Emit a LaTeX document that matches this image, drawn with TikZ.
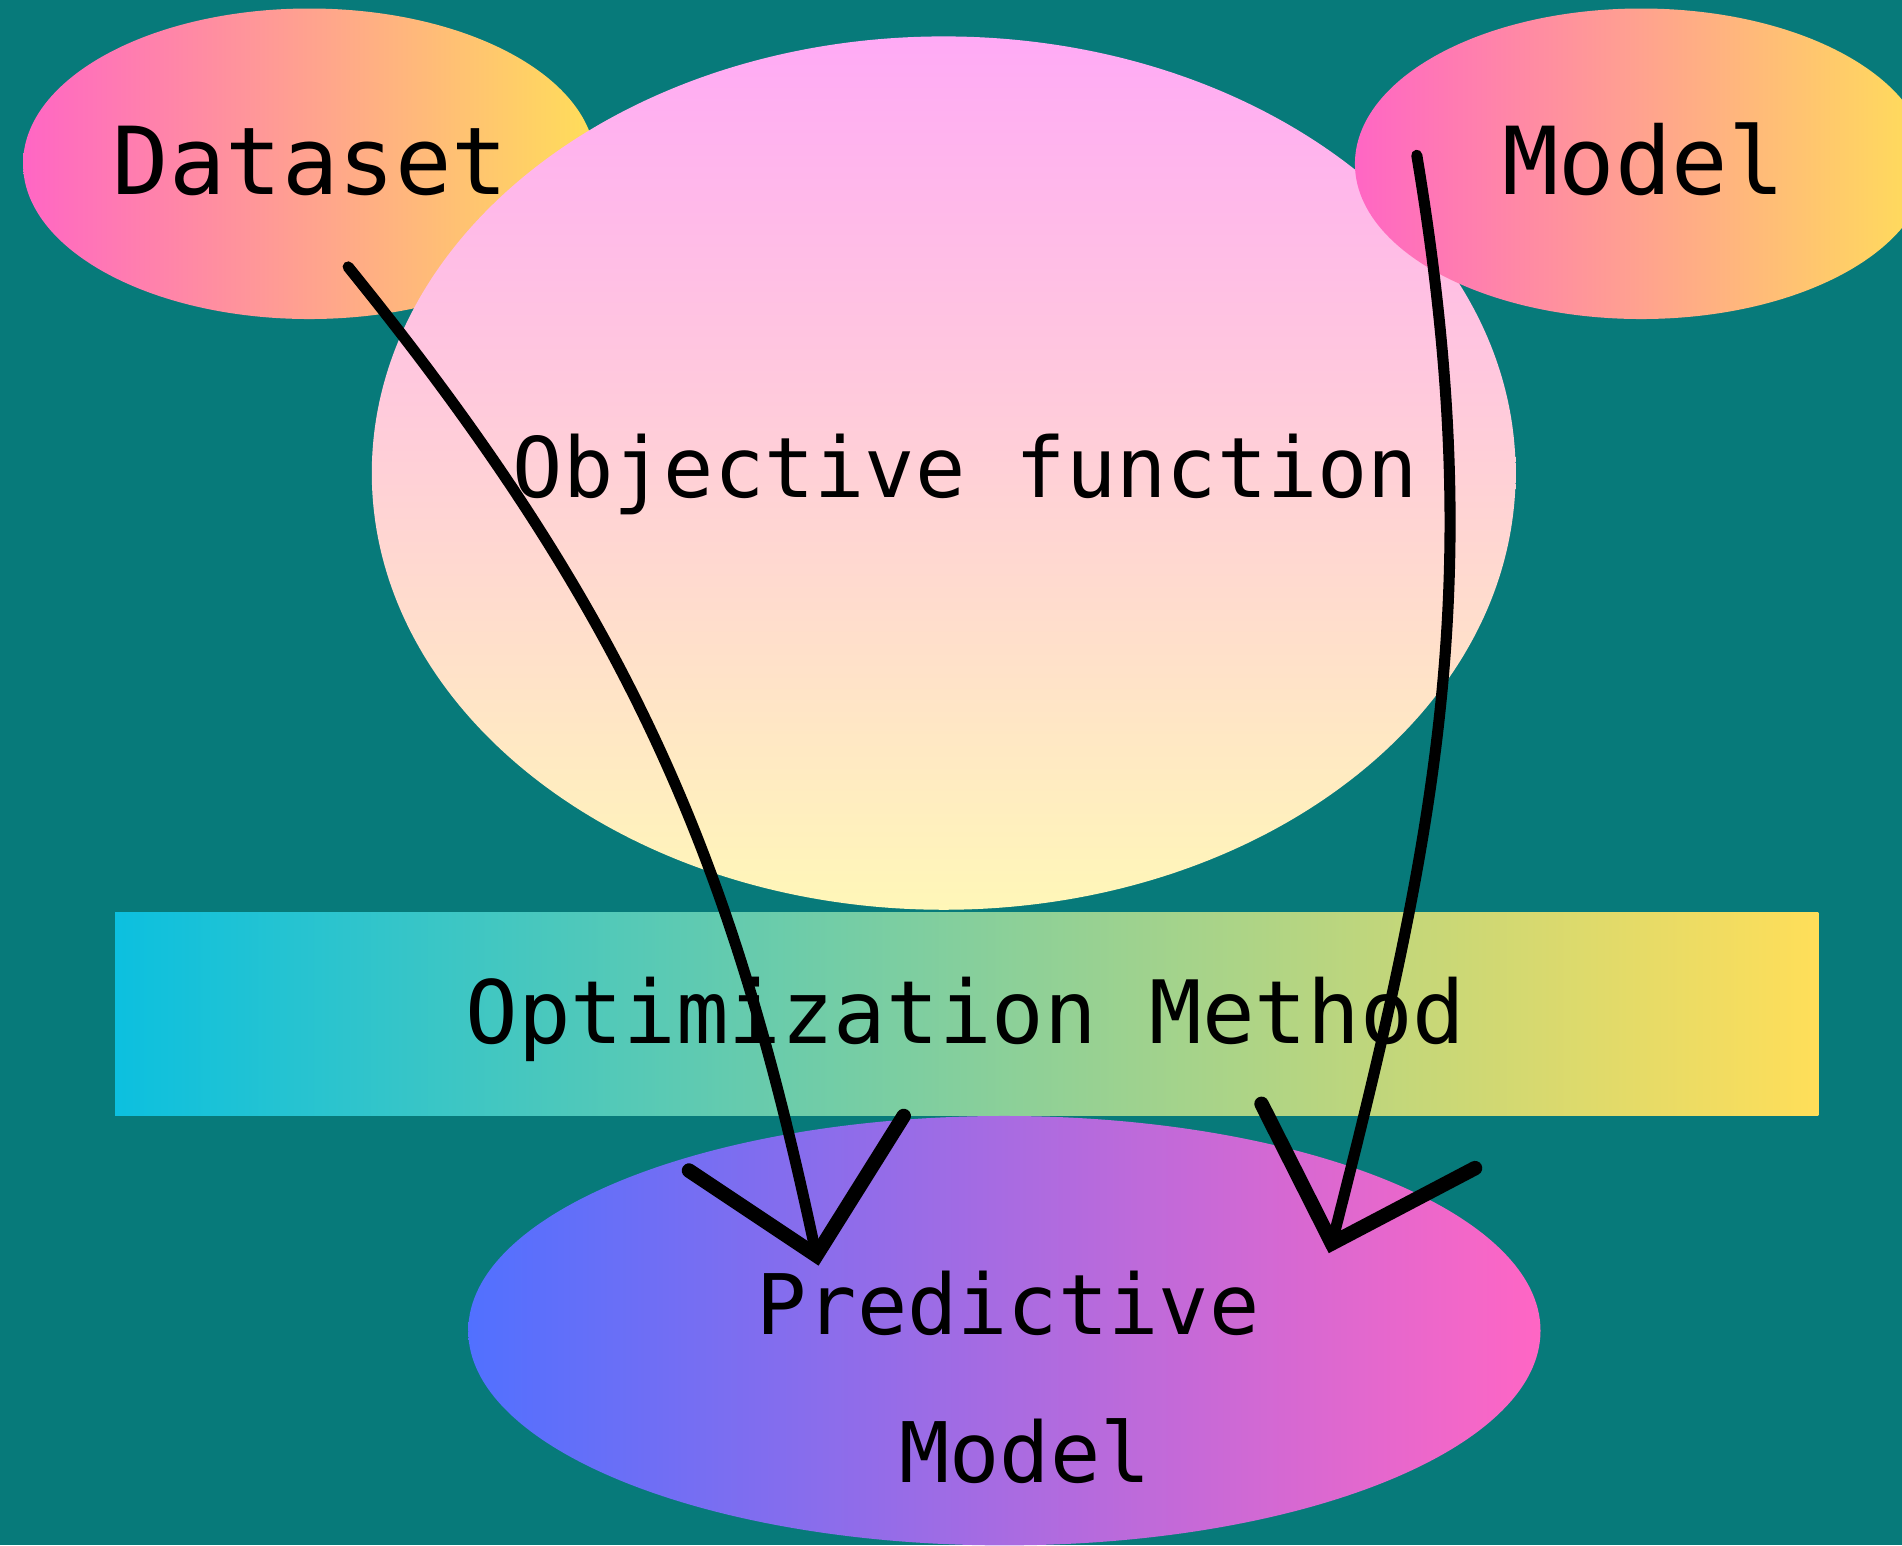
\documentclass[tikz,border=0pt]{standalone}
\usepackage{fontspec}
\newfontfamily\pixfont{DejaVu Sans Mono}
\usetikzlibrary{shapes.geometric}

\definecolor{bgteal}{RGB}{7,122,122}
\definecolor{hotpink}{RGB}{255,102,196}
\definecolor{sunyellow}{RGB}{255,222,89}
\definecolor{objtop}{RGB}{255,170,245}
\definecolor{objbot}{RGB}{255,247,184}
\definecolor{optcyan}{RGB}{12,192,223}
\definecolor{predblue}{RGB}{81,112,255}

\begin{document}
\begin{tikzpicture}[x=0.1mm,y=-0.1mm,
  blob/.style={ellipse,inner sep=0pt},
  lbl/.style={font=\pixfont\fontsize{19.6}{24}\selectfont,text=black,anchor=base},
  biglbl/.style={font=\pixfont\fontsize{22}{26}\selectfont,text=black,anchor=base},
  shaft/.style={line width=2.6pt,line cap=round},
  barb/.style={line width=3.4pt,line cap=round}]
\useasboundingbox (0,0) rectangle (1568,1274);
\fill[bgteal] (0,0) rectangle (1568,1274);

% inputs and objective
\node[blob,minimum width=4.72cm,minimum height=2.56cm,left color=hotpink,right color=sunyellow] (dataset) at (255,135) {};
\node[blob,minimum width=9.43cm,minimum height=7.20cm,top color=objtop,bottom color=objbot] (objective) at (778,390) {};
\node[blob,minimum width=4.72cm,minimum height=2.56cm,left color=hotpink,right color=sunyellow] (model) at (1353,135) {};

% optimizer and result
\node[rectangle,minimum width=14.04cm,minimum height=1.68cm,inner sep=0pt,left color=optcyan,right color=sunyellow] (optim) at (797,836) {};
\node[blob,minimum width=8.84cm,minimum height=3.54cm,left color=predblue,right color=hotpink] (predictive) at (828,1097) {};

\node[biglbl] (dslabel) at (256,160) {Dataset};
\node[biglbl] (mdlabel) at (1355,160) {Model};
\node[lbl] (objlabel) at (796,410) {Objective function};
\node[lbl,font=\pixfont\fontsize{20.5}{25}\selectfont] (optlabel) at (796,860) {Optimization Method};
\node[lbl] (predlabel) at (831,1100) {Predictive};
\node[lbl] (predlabelb) at (845,1222) {Model};

% hand drawn arrows
\coordinate (dstail) at (287,220);
\coordinate (tipL) at (673,1035);
\coordinate (barbLa) at (568,965);
\coordinate (barbLb) at (745,920);
\coordinate (mdtail) at (1168,128);
\coordinate (tipR) at (1098,1025);
\coordinate (barbRa) at (1040,910);
\coordinate (barbRb) at (1216,963);

\draw[shaft] (dstail) .. controls (527,516) and (606,719) .. (tipL);
\draw[barb] (barbLa) -- (tipL) -- (barbLb);
\draw[shaft] (mdtail) .. controls (1226,476) and (1187,677) .. (tipR);
\draw[barb] (barbRa) -- (tipR) -- (barbRb);
\end{tikzpicture}
\end{document}
